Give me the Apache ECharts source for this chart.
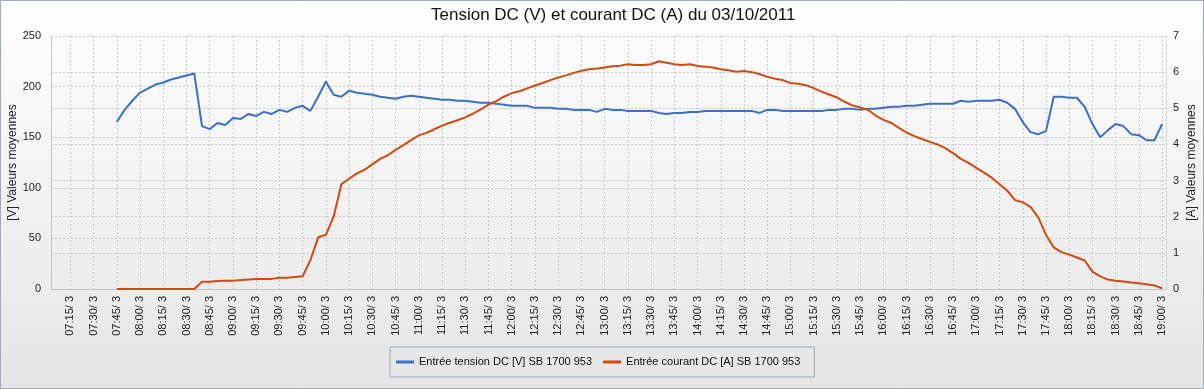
<!DOCTYPE html>
<html><head><meta charset="utf-8">
<script src="https://cdn.jsdelivr.net/npm/echarts@6/dist/echarts.min.js"></script>
<style>html,body{margin:0;padding:0;background:#fff}#c{width:1204px;height:389px}</style>
</head><body><div id="c"></div>
<script>
// Category axis: every 5 minutes, day 3 (03/10/2011)
const firstCategory = '07:05';
const lastCategory = '19:00';
const stepMinutes = 5;
const dayOfMonth = '3';
// Measurements start at 07:45 (one value every 5 minutes until 19:00)
const seriesStart = '07:45';
const seriesNames = ['Entrée tension DC [V] SB 1700 953', 'Entrée courant DC [A] SB 1700 953'];
const titleText = 'Tension DC (V) et courant DC (A) du 03/10/2011';

// Tension DC [V]
const tensionV = [
  165, 177, 186,                                              // 07:45-07:55
  194, 198, 202, 204, 207, 209, 211, 213, 161, 158, 164, 162, // 08
  169, 168, 173, 171, 175, 173, 177, 175, 179, 181, 176, 190, // 09
  205, 192, 190, 196, 194, 193, 192, 190, 189, 188, 190, 191, // 10
  190, 189, 188, 187, 187, 186, 186, 185, 184, 184, 183, 182, // 11
  181, 181, 181, 179, 179, 179, 178, 178, 177, 177, 177, 175, // 12
  178, 177, 177, 176, 176, 176, 176, 174, 173, 174, 174, 175, // 13
  175, 176, 176, 176, 176, 176, 176, 176, 174, 177, 177, 176, // 14
  176, 176, 176, 176, 176, 177, 177, 178, 178, 177, 178, 178, // 15
  179, 180, 180, 181, 181, 182, 183, 183, 183, 183, 186, 185, // 16
  186, 186, 186, 187, 184, 178, 165, 155, 153, 156, 190, 190, // 17
  189, 189, 180, 163, 150, 157, 163, 161, 153, 152, 147, 147, // 18
  163                                                         // 19:00
];
// Courant DC [A]
const courantA = [
  0, 0, 0,
  0, 0, 0, 0, 0, 0, 0, 0, 0.2, 0.2, 0.22, 0.23,
  0.23, 0.25, 0.26, 0.28, 0.28, 0.28, 0.31, 0.31, 0.33, 0.35, 0.8, 1.43,
  1.5, 2.0, 2.9, 3.05, 3.2, 3.3, 3.45, 3.6, 3.7, 3.85, 3.98, 4.12,
  4.25, 4.32, 4.42, 4.52, 4.6, 4.67, 4.75, 4.85, 4.97, 5.1, 5.2, 5.32,
  5.42, 5.47, 5.55, 5.63, 5.7, 5.78, 5.85, 5.91, 5.98, 6.04, 6.08, 6.1,
  6.13, 6.16, 6.18, 6.22, 6.2, 6.2, 6.22, 6.3, 6.26, 6.22, 6.2, 6.22,
  6.17, 6.15, 6.13, 6.08, 6.05, 6.01, 6.03, 6.0, 5.95, 5.87, 5.82, 5.78,
  5.7, 5.68, 5.64, 5.56, 5.46, 5.38, 5.3, 5.18, 5.08, 5.02, 4.96, 4.8,
  4.68, 4.6, 4.46, 4.33, 4.23, 4.15, 4.07, 4.0, 3.9, 3.76, 3.6, 3.49,
  3.35, 3.22, 3.08, 2.9, 2.72, 2.46, 2.4, 2.27, 1.98, 1.5, 1.15, 1.02,
  0.95, 0.87, 0.79, 0.48, 0.35, 0.26, 0.23, 0.21, 0.18, 0.16, 0.13, 0.1,
  0.02
];
const leftTicks = { min: 0, max: 250, interval: 50, name: '[V] Valeurs moyennes' };
const rightTicks = { min: 0, max: 7, interval: 1, name: '[A] Valeurs moyennes' };

function toMin(s) { const p = s.split(':'); return (+p[0]) * 60 + (+p[1]); }
function fmt(m) { const h = Math.floor(m / 60), mm = m % 60; return (h < 10 ? '0' : '') + h + ':' + (mm < 10 ? '0' : '') + mm + '/ ' + dayOfMonth; }
const categories = [];
for (let m = toMin(firstCategory); m <= toMin(lastCategory); m += stepMinutes) categories.push(fmt(m));
const lead = (toMin(seriesStart) - toMin(firstCategory)) / stepMinutes;
const pad = new Array(lead).fill(null);
const isQuarter = (i, v) => (+String(v).substr(3, 2)) % 15 === 0;

const FONT = '"Liberation Sans", Arial, sans-serif';
const gridColor = '#c2cad3';
const chart = echarts.init(document.getElementById('c'), null, { renderer: 'canvas' });
chart.setOption({
  animation: false,
  backgroundColor: { type: 'linear', x: 0, y: 0, x2: 0, y2: 1, colorStops: [{ offset: 0, color: '#ffffff' }, { offset: 1, color: '#e5e5e5' }] },
  textStyle: { fontFamily: FONT },
  title: { text: titleText, left: 426, top: 2, textStyle: { fontSize: 17, fontWeight: 'normal', color: '#111', fontFamily: FONT } },
  graphic: [{ type: 'rect', shape: { x: 0.5, y: 0.5, width: 1203, height: 388 }, style: { fill: 'none', stroke: '#9aabc0', lineWidth: 1 }, silent: true, z: 100 }],
  legend: {
    left: 390, top: 347, itemWidth: 18, itemHeight: 3, itemGap: 11, icon: 'rect',
    padding: [9, 14, 9, 6], borderColor: '#97a8bd', borderWidth: 1,
    textStyle: { fontSize: 11, color: '#111', fontFamily: FONT, lineHeight: 12 },
    data: seriesNames
  },
  grid: { left: 51, right: 38, top: 36, bottom: 100, containLabel: false, outerBoundsMode: 'none' },
  xAxis: {
    type: 'category', data: categories, boundaryGap: true,
    axisLine: { lineStyle: { color: '#c4c4c4' } },
    axisTick: { show: false, alignWithLabel: true, interval: isQuarter },
    axisLabel: { interval: isQuarter, rotate: 90, fontSize: 11, color: '#222', margin: 7, fontFamily: FONT },
    splitLine: { show: true, interval: isQuarter, alignWithLabel: true, lineStyle: { color: gridColor, type: [2, 2], width: 1 } }
  },
  yAxis: [
    {
      type: 'value', position: 'left', min: leftTicks.min, max: leftTicks.max, interval: leftTicks.interval,
      name: leftTicks.name, nameLocation: 'middle', nameRotate: 90, nameGap: 32, nameMoveOverlap: false,
      nameTextStyle: { fontSize: 12, color: '#222', fontFamily: FONT },
      axisLine: { show: true, lineStyle: { color: '#c4c4c4' } }, axisTick: { show: false },
      axisLabel: { fontSize: 11, color: '#222', margin: 10, fontFamily: FONT },
      splitLine: { show: true, lineStyle: { color: gridColor, type: [2, 2], width: 1 } }
    },
    {
      type: 'value', position: 'right', min: rightTicks.min, max: rightTicks.max, interval: rightTicks.interval,
      name: rightTicks.name, nameLocation: 'middle', nameRotate: 90, nameGap: 20, nameMoveOverlap: false,
      nameTextStyle: { fontSize: 12, color: '#222', fontFamily: FONT },
      axisLine: { show: true, lineStyle: { color: gridColor, type: [2, 2] } }, axisTick: { show: false },
      axisLabel: { fontSize: 11, color: '#222', margin: 7, fontFamily: FONT },
      splitLine: { show: true, lineStyle: { color: gridColor, type: [2, 2], width: 1 } }
    }
  ],
  series: [
    { name: seriesNames[0], type: 'line', yAxisIndex: 0, data: pad.concat(tensionV), symbol: 'none', lineStyle: { color: '#3a6fcc', width: 2 }, itemStyle: { color: '#3a6fcc' } },
    { name: seriesNames[1], type: 'line', yAxisIndex: 1, data: pad.concat(courantA), symbol: 'none', lineStyle: { color: '#d3490f', width: 2 }, itemStyle: { color: '#d3490f' } }
  ]
});
</script></body></html>
